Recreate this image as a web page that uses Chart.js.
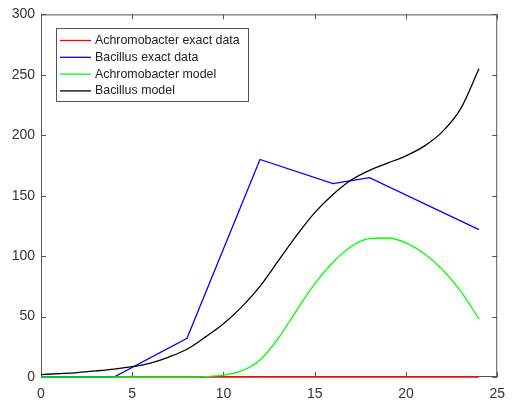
<!DOCTYPE html>
<html>
<head>
<meta charset="utf-8">
<script src="https://cdn.jsdelivr.net/npm/chart.js@4/dist/chart.umd.min.js"></script>
<style>
  html, body { margin: 0; padding: 0; background: #fff; }
  #wrap { width: 514px; height: 406px; }
</style>
</head>
<body>
<div id="wrap"><canvas id="plot"></canvas></div>
<script>
// measured data
var exactX = [0, 4, 8, 12, 16, 18, 24];
var achroExact = [0, 0, 0, 0, 0, 0, 0];
var bacillusExact = [0, 0, 32, 180, 160, 165, 122];

var modelX = [0, 1, 2, 3, 4, 5, 6, 7, 8, 9, 10, 11, 12, 13, 14, 15, 16, 17, 18, 19, 20, 21, 22, 23, 24];
var achroModel = [0, 0, 0, 0, 0, 0, 0, 0, 0, 0.3, 1.5, 5, 14, 32, 55, 77, 95, 108, 114.5, 115, 111, 102, 89, 71, 48];
var bacillusModel = [2, 2.8, 3.7, 5, 6.5, 8.5, 11.5, 16.5, 23, 33, 44, 58, 75, 96, 117, 136, 151, 163, 171, 177, 183, 191, 203, 222, 255];

var labels = ['Achromobacter exact data', 'Bacillus exact data', 'Achromobacter model', 'Bacillus model'];
var colors = ['#ff0000', '#0000ff', '#00ff00', '#000000'];
var xTicks = [0, 5, 10, 15, 20, 25];
var yTicks = [0, 50, 100, 150, 200, 250, 300];

function pts(xs, ys){
    return xs.map(function(x, i){ return {x: x, y: ys[i]}; });
}

function line(i, xs, ys, smooth){
    return {
        label: labels[i],
        data: pts(xs, ys),
        borderColor: colors[i],
        backgroundColor: colors[i],
        borderWidth: 1.3,
        pointRadius: 0,
        tension: smooth ? 0.4 : 0,
        cubicInterpolationMode: smooth ? 'monotone' : 'default',
        order: 4 - i,
        clip: 4
    };
}

// matlab style box with inward ticks
var boxPlugin = {
    id: 'box',
    beforeDatasetsDraw: function(chart){
        var c = chart.ctx, a = chart.chartArea;
        var sx = chart.scales.x, sy = chart.scales.y;
        c.save();
        c.strokeStyle = '#555';
        c.lineWidth = 1;
        c.strokeRect(a.left + 0.5, a.top + 0.5, a.right - a.left - 1, a.bottom - a.top - 1);
        c.beginPath();
        xTicks.forEach(function(v){
            var p = Math.round(sx.getPixelForValue(v)) + 0.5;
            c.moveTo(p, a.bottom); c.lineTo(p, a.bottom - 5);
            c.moveTo(p, a.top); c.lineTo(p, a.top + 5);
        });
        yTicks.forEach(function(v){
            var p = Math.round(sy.getPixelForValue(v)) + 0.5;
            c.moveTo(a.left, p); c.lineTo(a.left + 5, p);
            c.moveTo(a.right, p); c.lineTo(a.right - 5, p);
        });
        c.stroke();
        c.restore();
    },
    afterDatasetsDraw: function(chart){
        var c = chart.ctx;
        var bx = 56, by = 28, bw = 192, bh = 73;
        c.save();
        c.fillStyle = '#fff';
        c.fillRect(bx, by, bw, bh);
        c.strokeStyle = '#555';
        c.lineWidth = 1;
        c.strokeRect(bx + 0.5, by + 0.5, bw, bh);
        c.font = '12.4px "Liberation Sans", Arial, sans-serif';
        c.textBaseline = 'middle';
        chart.data.datasets.forEach(function(ds, i){
            var y = by + 12.5 + i * 16.8;
            c.strokeStyle = ds.borderColor;
            c.lineWidth = 1.3;
            c.beginPath();
            c.moveTo(60, y); c.lineTo(91, y);
            c.stroke();
            c.fillStyle = '#222';
            c.fillText(ds.label, 95, y);
        });
        c.restore();
    }
};

var tickFont = {family: '"Liberation Sans", Arial, sans-serif', size: 14};

new Chart(document.getElementById('plot'), {
    type: 'line',
    data: {
        datasets: [
            line(0, exactX, achroExact, false),
            line(1, exactX, bacillusExact, false),
            line(2, modelX, achroModel, true),
            line(3, modelX, bacillusModel, true)
        ]
    },
    options: {
        responsive: true,
        maintainAspectRatio: false,
        animation: false,
        layout: {padding: {top: 14, right: 12, left: 0, bottom: 0}},
        plugins: {legend: {display: false}, tooltip: {enabled: false}},
        scales: {
            x: {
                type: 'linear', min: 0, max: 25,
                grid: {display: false, drawTicks: false},
                border: {display: false},
                ticks: {stepSize: 5, color: '#333', font: tickFont, padding: 9, maxRotation: 0},
                afterFit: function(s){ s.height = 29; }
            },
            y: {
                min: 0, max: 300,
                grid: {display: false, drawTicks: false},
                border: {display: false},
                ticks: {stepSize: 50, color: '#333', font: tickFont, padding: 6},
                afterFit: function(s){ s.width = 41; }
            }
        }
    },
    plugins: [boxPlugin]
});
</script>
</body>
</html>
